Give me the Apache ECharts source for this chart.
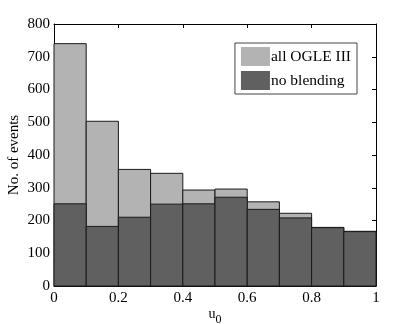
<!DOCTYPE html>
<html>
<head>
<meta charset="utf-8">
<script src="https://cdn.jsdelivr.net/npm/echarts@6/dist/echarts.min.js"></script>
<style>
  html, body { margin: 0; padding: 0; background: #fff; }
  #main { width: 415px; height: 324px; }
</style>
</head>
<body>
<div id="main"></div>
<script>
  // bin edges of the u0 histogram
  var binStart = [0, 0.1, 0.2, 0.3, 0.4, 0.5, 0.6, 0.7, 0.8, 0.9];
  var binWidth = 0.1;
  // counts per bin
  var allOgle = [740, 503, 356, 344, 293, 296, 257, 222, 179, 167];
  var noBlending = [251, 182, 210, 250, 251, 271, 234, 208, 178, 166];

  var font = '"Liberation Serif", serif';

  function toData(vals) {
    return binStart.map(function (s, i) { return [s, s + binWidth, vals[i]]; });
  }

  function renderBin(params, api) {
    var p0 = api.coord([api.value(0), api.value(2)]);
    var p1 = api.coord([api.value(1), 0]);
    return {
      type: 'rect',
      shape: { x: p0[0], y: p0[1], width: p1[0] - p0[0], height: p1[1] - p0[1] },
      style: api.style({ stroke: '#1a1a1a', lineWidth: 1 })
    };
  }

  var myChart = echarts.init(document.getElementById('main'));

  var tickInside = { show: true, inside: true, length: 4, lineStyle: { color: '#000' } };
  var frameLine = { show: true, onZero: false, lineStyle: { color: '#000', width: 1 } };

  var option = {
    animation: false,
    backgroundColor: '#fff',
    textStyle: { fontFamily: font },
    grid: { left: 54, right: 39, top: 24, bottom: 38, containLabel: false, outerBoundsMode: 'none' },
    legend: {
      orient: 'vertical',
      right: 58,
      top: 43,
      itemWidth: 29,
      itemHeight: 19,
      itemGap: 5,
      padding: [4, 6, 4, 6],
      borderColor: '#444',
      borderWidth: 1,
      backgroundColor: '#fff',
      icon: 'rect',
      textStyle: { fontFamily: font, fontSize: 15.5, color: '#000', padding: [0, 0, 0, -4] },
      data: ['all OGLE III', 'no blending']
    },
    xAxis: [
      {
        type: 'value', min: 0, max: 1, interval: 0.2,
        name: '{a|u}{b|0}',
        nameLocation: 'middle', nameGap: 17, nameMoveOverlap: false,
        nameTextStyle: {
          rich: {
            a: { fontFamily: font, fontSize: 14, color: '#000' },
            b: { fontFamily: font, fontSize: 12, color: '#000', padding: [11, 0, 0, 0] }
          }
        },
        axisLine: frameLine,
        axisTick: tickInside,
        axisLabel: { fontFamily: font, fontSize: 15, color: '#000', margin: 5 },
        splitLine: { show: false }
      },
      {
        type: 'value', min: 0, max: 1, interval: 0.2, position: 'top',
        axisLine: frameLine,
        axisTick: tickInside,
        axisLabel: { show: false },
        splitLine: { show: false }
      }
    ],
    yAxis: [
      {
        type: 'value', min: 0, max: 800, interval: 100,
        name: 'No. of events',
        nameLocation: 'middle', nameGap: 32, nameMoveOverlap: false,
        nameTextStyle: { fontFamily: font, fontSize: 15, color: '#000' },
        axisLine: frameLine,
        axisTick: tickInside,
        axisLabel: { fontFamily: font, fontSize: 15, color: '#000', margin: 4 },
        splitLine: { show: false }
      },
      {
        type: 'value', min: 0, max: 800, interval: 100, position: 'right',
        axisLine: frameLine,
        axisTick: tickInside,
        axisLabel: { show: false },
        splitLine: { show: false }
      }
    ],
    series: [
      {
        name: 'all OGLE III',
        type: 'custom',
        renderItem: renderBin,
        itemStyle: { color: '#b3b3b3' },
        encode: { x: [0, 1], y: 2 },
        data: toData(allOgle)
      },
      {
        name: 'no blending',
        type: 'custom',
        renderItem: renderBin,
        itemStyle: { color: '#606060' },
        encode: { x: [0, 1], y: 2 },
        data: toData(noBlending)
      }
    ]
  };

  myChart.setOption(option);
</script>
</body>
</html>
